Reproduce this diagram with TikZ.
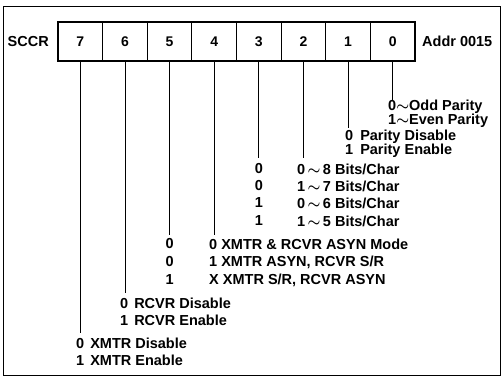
\documentclass[tikz,border=0pt]{standalone}
\usepackage{fontspec}
\setmainfont{Liberation Sans}
\begin{document}
\begin{tikzpicture}[x=1pt,y=-1pt,
  cell/.style={draw,line width=1.2pt,minimum width=44.625pt,minimum height=39pt,inner sep=0pt,outer sep=0pt,font=\fontsize{14}{15}\selectfont\bfseries},
  lbl/.style={anchor=west,inner sep=0pt,font=\fontsize{14.5}{15}\selectfont\bfseries\boldmath},
  col/.style={anchor=center,inner sep=0pt,font=\fontsize{14.5}{15}\selectfont\bfseries},
  wire/.style={line width=0.8pt}]
\useasboundingbox (0,0) rectangle (503,377);
\draw[line width=0.8pt] (3,6) rectangle (500,375);
\foreach \b/\i in {7/0,6/1,5/2,4/3,3/4,2/5,1/6,0/7}{
  \node[cell] (c\b) at ({58+44.625*(\i+0.5)},41.5) {\b};
}
\node[lbl,anchor=east] (sccr) at (49,41.5) {SCCR};
\node[lbl] (addr) at (422,41.5) {Addr 0015};
% end points
\coordinate (e0) at (c0.south |- 0,100);
\coordinate (e1) at (c1.south |- 0,128);
\coordinate (e2) at (c2.south |- 0,158);
\coordinate (e3) at (c3.south |- 0,158);
\coordinate (e4) at (c4.south |- 0,235);
\coordinate (e5) at (c5.south |- 0,235);
\coordinate (e6) at (c6.south |- 0,293);
\coordinate (e7) at (c7.south |- 0,333);
\foreach \b in {0,...,7}{\draw[wire] (c\b.south) -- (e\b);}
% bit 0
\node[lbl] (odd) at (388,107) {0$\sim$Odd Parity};
\node[lbl] (even) at (388,121) {1$\sim$Even Parity};
% bit 1
\node[lbl] (pdis) at (345,137) {0\hspace{7pt}Parity Disable};
\node[lbl] (pen) at (345,151) {1\hspace{7pt}Parity Enable};
% bits 3,2
\node[col] (b3a) at (c3.south |- 0,169) {0};
\node[col] (b3b) at (c3.south |- 0,186) {0};
\node[col] (b3c) at (c3.south |- 0,203) {1};
\node[col] (b3d) at (c3.south |- 0,221) {1};
\node[lbl] (w8) at (297,169) {0\,$\sim$\,8 Bits/Char};
\node[lbl] (w7) at (297,186) {1\,$\sim$\,7 Bits/Char};
\node[lbl] (w6) at (297,203) {0\,$\sim$\,6 Bits/Char};
\node[lbl] (w5) at (297,221) {1\,$\sim$\,5 Bits/Char};
% bits 5,4
\node[col] (b5a) at (c5.south |- 0,244) {0};
\node[col] (b5b) at (c5.south |- 0,262) {0};
\node[col] (b5c) at (c5.south |- 0,280) {1};
\node[lbl] (m0) at (209,244) {0 XMTR \& RCVR ASYN Mode};
\node[lbl] (m1) at (209,262) {1 XMTR ASYN, RCVR S/R};
\node[lbl] (m2) at (209,280) {X XMTR S/R, RCVR ASYN};
% bit 6
\node[lbl] (rdis) at (120,303) {0\hspace{6pt}RCVR Disable};
\node[lbl] (ren) at (120,320) {1\hspace{6pt}RCVR Enable};
% bit 7
\node[lbl] (xdis) at (76,343) {0\hspace{6pt}XMTR Disable};
\node[lbl] (xen) at (76,360) {1\hspace{6pt}XMTR Enable};
\end{tikzpicture}
\end{document}
